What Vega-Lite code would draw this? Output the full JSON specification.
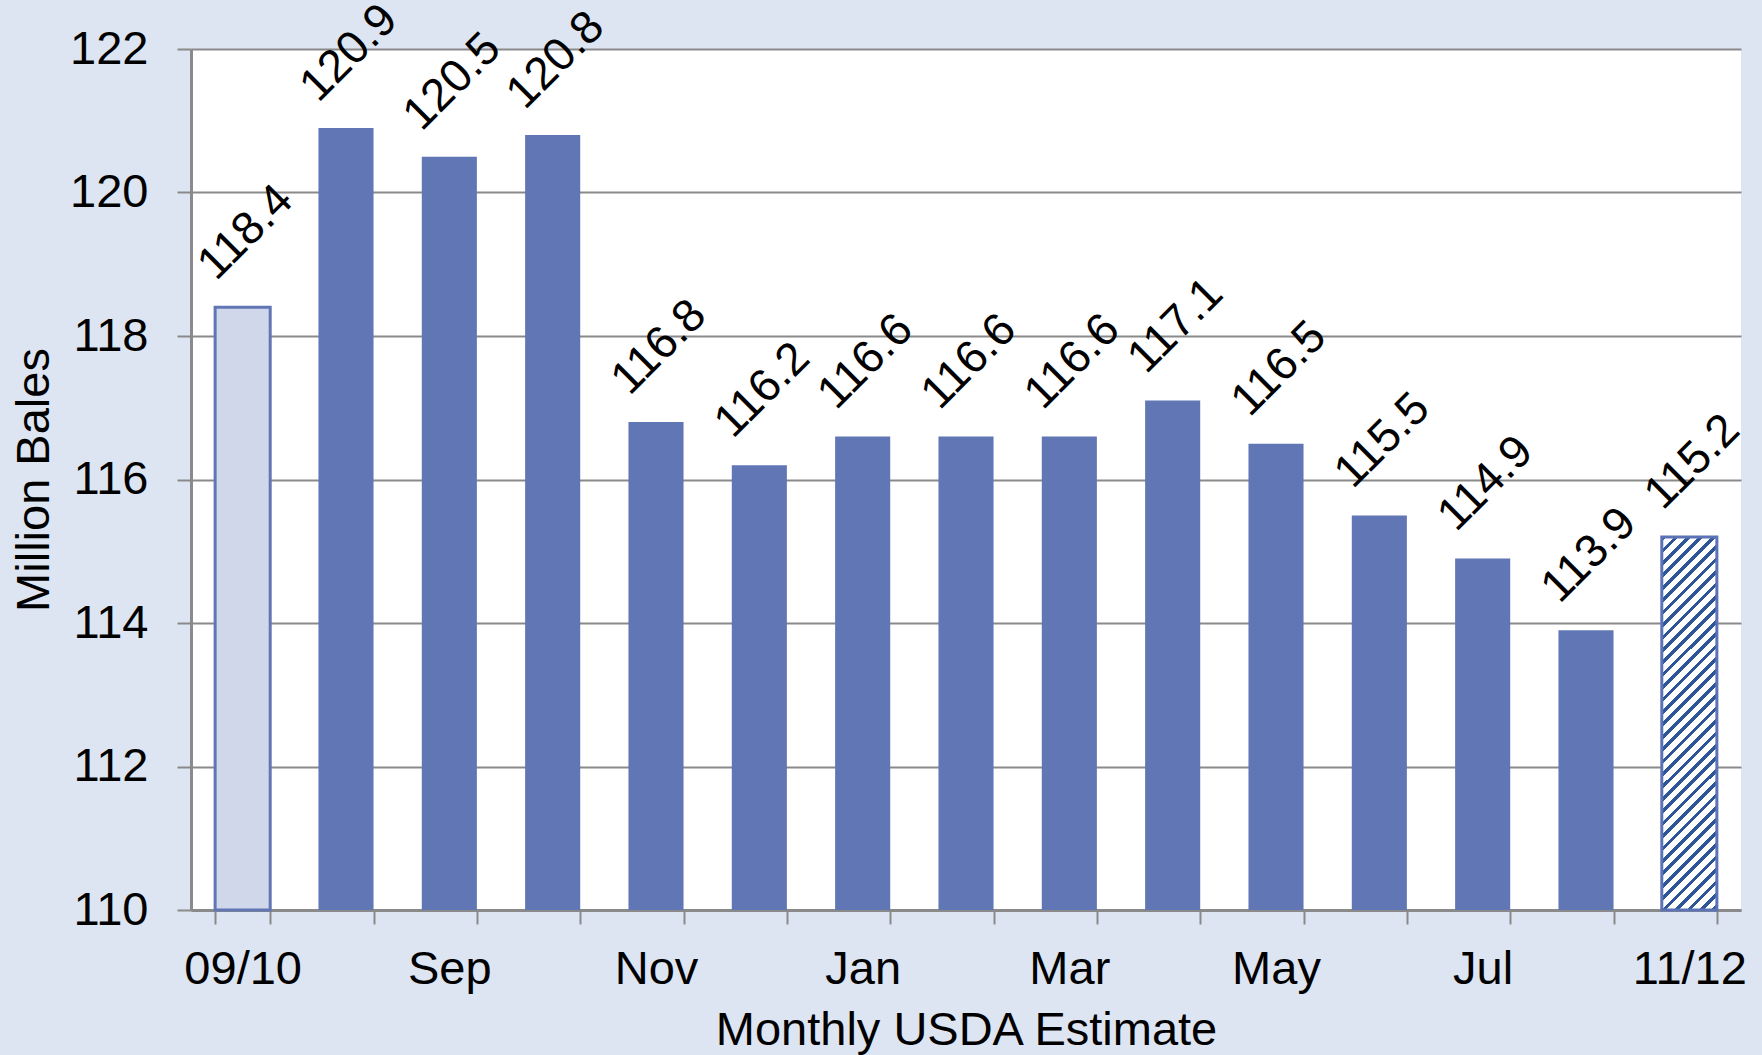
{
  "$schema": "https://vega.github.io/schema/vega-lite/v6.json",
  "width": 1550,
  "height": 861,
  "autosize": {"type": "none"},
  "padding": {"left": 191, "top": 49, "right": 21, "bottom": 145},
  "background": "#dce5f1",
  "config": {
    "view": {"fill": "#ffffff", "stroke": null},
    "font": "Liberation Sans",
    "axis": {
      "labelFont": "Liberation Sans",
      "titleFont": "Liberation Sans",
      "labelFontSize": 47,
      "titleFontSize": 47,
      "labelColor": "#000000",
      "titleColor": "#000000",
      "titleFontWeight": "normal",
      "domainColor": "#8a8a8a",
      "domainWidth": 3,
      "tickColor": "#8a8a8a",
      "tickWidth": 2,
      "tickSize": 14,
      "gridColor": "#8a8a8a",
      "gridWidth": 2
    }
  },
  "data": {
    "values": [
      {"month": "09/10", "value": 118.4, "type": "Final"},
      {"month": "Aug 2010", "value": 120.9, "type": "Estimate"},
      {"month": "Sep 2010", "value": 120.5, "type": "Estimate"},
      {"month": "Oct 2010", "value": 120.8, "type": "Estimate"},
      {"month": "Nov 2010", "value": 116.8, "type": "Estimate"},
      {"month": "Dec 2010", "value": 116.2, "type": "Estimate"},
      {"month": "Jan 2011", "value": 116.6, "type": "Estimate"},
      {"month": "Feb 2011", "value": 116.6, "type": "Estimate"},
      {"month": "Mar 2011", "value": 116.6, "type": "Estimate"},
      {"month": "Apr 2011", "value": 117.1, "type": "Estimate"},
      {"month": "May 2011", "value": 116.5, "type": "Estimate"},
      {"month": "Jun 2011", "value": 115.5, "type": "Estimate"},
      {"month": "Jul 2011", "value": 114.9, "type": "Estimate"},
      {"month": "Aug 2011", "value": 113.9, "type": "Estimate"},
      {"month": "11/12", "value": 115.2, "type": "Projection"}
    ]
  },
  "encoding": {
    "x": {
      "field": "month",
      "type": "nominal",
      "sort": ["09/10", "Aug 2010", "Sep 2010", "Oct 2010", "Nov 2010", "Dec 2010", "Jan 2011", "Feb 2011", "Mar 2011", "Apr 2011", "May 2011", "Jun 2011", "Jul 2011", "Aug 2011", "11/12"],
      "scale": {"paddingInner": 0.467, "paddingOuter": 0.2335},
      "axis": {
        "title": "Monthly USDA Estimate",
        "labelAngle": 0,
        "labelPadding": 22,
        "labelOverlap": false,
        "titlePadding": 15,
        "tickBand": "extent",
        "grid": false,
        "labelExpr": "!isString(datum.value) ? '' : (indexof(['Aug','Oct','Dec','Feb','Apr','Jun'], split(datum.value,' ')[0]) >= 0 ? '' : split(datum.value,' ')[0])"
      }
    },
    "y": {
      "field": "value",
      "type": "quantitative",
      "scale": {"domain": [110, 122], "zero": false, "nice": false},
      "axis": {
        "title": "Million Bales",
        "values": [110, 112, 114, 116, 118, 120, 122],
        "labelPadding": 29,
        "titlePadding": 11,
        "grid": true
      }
    }
  },
  "layer": [
    {
      "transform": [{"filter": "datum.type == 'Estimate'"}],
      "mark": {"type": "bar", "color": "#6176b4"},
      "encoding": {"y2": {"datum": 110}}
    },
    {
      "transform": [{"filter": "datum.type == 'Final'"}],
      "mark": {"type": "bar", "fill": "#d0d7ea", "stroke": "#6176b4", "strokeWidth": 3},
      "encoding": {"y2": {"datum": 110}}
    },
    {
      "transform": [{"filter": "datum.type == 'Projection'"}],
      "mark": {
        "type": "bar",
        "stroke": "#5b73b6",
        "strokeWidth": 3,
        "fill": {
          "gradient": "linear",
          "x1": 0, "y1": 0, "x2": 0.1656, "y2": 1.123,
          "stops": [
            {"offset": 0, "color": "#2e5597"}, {"offset": 0.011, "color": "#2e5597"}, {"offset": 0.011, "color": "#ffffff"}, {"offset": 0.029, "color": "#ffffff"},
            {"offset": 0.029, "color": "#2e5597"}, {"offset": 0.040, "color": "#2e5597"}, {"offset": 0.040, "color": "#ffffff"}, {"offset": 0.058, "color": "#ffffff"},
            {"offset": 0.058, "color": "#2e5597"}, {"offset": 0.069, "color": "#2e5597"}, {"offset": 0.069, "color": "#ffffff"}, {"offset": 0.087, "color": "#ffffff"},
            {"offset": 0.087, "color": "#2e5597"}, {"offset": 0.098, "color": "#2e5597"}, {"offset": 0.098, "color": "#ffffff"}, {"offset": 0.116, "color": "#ffffff"},
            {"offset": 0.116, "color": "#2e5597"}, {"offset": 0.127, "color": "#2e5597"}, {"offset": 0.127, "color": "#ffffff"}, {"offset": 0.145, "color": "#ffffff"},
            {"offset": 0.145, "color": "#2e5597"}, {"offset": 0.156, "color": "#2e5597"}, {"offset": 0.156, "color": "#ffffff"}, {"offset": 0.174, "color": "#ffffff"},
            {"offset": 0.174, "color": "#2e5597"}, {"offset": 0.185, "color": "#2e5597"}, {"offset": 0.185, "color": "#ffffff"}, {"offset": 0.203, "color": "#ffffff"},
            {"offset": 0.203, "color": "#2e5597"}, {"offset": 0.214, "color": "#2e5597"}, {"offset": 0.214, "color": "#ffffff"}, {"offset": 0.232, "color": "#ffffff"},
            {"offset": 0.232, "color": "#2e5597"}, {"offset": 0.243, "color": "#2e5597"}, {"offset": 0.243, "color": "#ffffff"}, {"offset": 0.261, "color": "#ffffff"},
            {"offset": 0.261, "color": "#2e5597"}, {"offset": 0.272, "color": "#2e5597"}, {"offset": 0.272, "color": "#ffffff"}, {"offset": 0.290, "color": "#ffffff"},
            {"offset": 0.290, "color": "#2e5597"}, {"offset": 0.301, "color": "#2e5597"}, {"offset": 0.301, "color": "#ffffff"}, {"offset": 0.319, "color": "#ffffff"},
            {"offset": 0.319, "color": "#2e5597"}, {"offset": 0.330, "color": "#2e5597"}, {"offset": 0.330, "color": "#ffffff"}, {"offset": 0.348, "color": "#ffffff"},
            {"offset": 0.348, "color": "#2e5597"}, {"offset": 0.359, "color": "#2e5597"}, {"offset": 0.359, "color": "#ffffff"}, {"offset": 0.377, "color": "#ffffff"},
            {"offset": 0.377, "color": "#2e5597"}, {"offset": 0.388, "color": "#2e5597"}, {"offset": 0.388, "color": "#ffffff"}, {"offset": 0.406, "color": "#ffffff"},
            {"offset": 0.406, "color": "#2e5597"}, {"offset": 0.417, "color": "#2e5597"}, {"offset": 0.417, "color": "#ffffff"}, {"offset": 0.435, "color": "#ffffff"},
            {"offset": 0.435, "color": "#2e5597"}, {"offset": 0.446, "color": "#2e5597"}, {"offset": 0.446, "color": "#ffffff"}, {"offset": 0.464, "color": "#ffffff"},
            {"offset": 0.464, "color": "#2e5597"}, {"offset": 0.475, "color": "#2e5597"}, {"offset": 0.475, "color": "#ffffff"}, {"offset": 0.493, "color": "#ffffff"},
            {"offset": 0.493, "color": "#2e5597"}, {"offset": 0.504, "color": "#2e5597"}, {"offset": 0.504, "color": "#ffffff"}, {"offset": 0.522, "color": "#ffffff"},
            {"offset": 0.522, "color": "#2e5597"}, {"offset": 0.533, "color": "#2e5597"}, {"offset": 0.533, "color": "#ffffff"}, {"offset": 0.551, "color": "#ffffff"},
            {"offset": 0.551, "color": "#2e5597"}, {"offset": 0.562, "color": "#2e5597"}, {"offset": 0.562, "color": "#ffffff"}, {"offset": 0.580, "color": "#ffffff"},
            {"offset": 0.580, "color": "#2e5597"}, {"offset": 0.591, "color": "#2e5597"}, {"offset": 0.591, "color": "#ffffff"}, {"offset": 0.609, "color": "#ffffff"},
            {"offset": 0.609, "color": "#2e5597"}, {"offset": 0.620, "color": "#2e5597"}, {"offset": 0.620, "color": "#ffffff"}, {"offset": 0.638, "color": "#ffffff"},
            {"offset": 0.638, "color": "#2e5597"}, {"offset": 0.649, "color": "#2e5597"}, {"offset": 0.649, "color": "#ffffff"}, {"offset": 0.667, "color": "#ffffff"},
            {"offset": 0.667, "color": "#2e5597"}, {"offset": 0.678, "color": "#2e5597"}, {"offset": 0.678, "color": "#ffffff"}, {"offset": 0.696, "color": "#ffffff"},
            {"offset": 0.696, "color": "#2e5597"}, {"offset": 0.707, "color": "#2e5597"}, {"offset": 0.707, "color": "#ffffff"}, {"offset": 0.725, "color": "#ffffff"},
            {"offset": 0.725, "color": "#2e5597"}, {"offset": 0.736, "color": "#2e5597"}, {"offset": 0.736, "color": "#ffffff"}, {"offset": 0.754, "color": "#ffffff"},
            {"offset": 0.754, "color": "#2e5597"}, {"offset": 0.765, "color": "#2e5597"}, {"offset": 0.765, "color": "#ffffff"}, {"offset": 0.783, "color": "#ffffff"},
            {"offset": 0.783, "color": "#2e5597"}, {"offset": 0.794, "color": "#2e5597"}, {"offset": 0.794, "color": "#ffffff"}, {"offset": 0.812, "color": "#ffffff"},
            {"offset": 0.812, "color": "#2e5597"}, {"offset": 0.823, "color": "#2e5597"}, {"offset": 0.823, "color": "#ffffff"}, {"offset": 0.841, "color": "#ffffff"},
            {"offset": 0.841, "color": "#2e5597"}, {"offset": 0.852, "color": "#2e5597"}, {"offset": 0.852, "color": "#ffffff"}, {"offset": 0.870, "color": "#ffffff"},
            {"offset": 0.870, "color": "#2e5597"}, {"offset": 0.881, "color": "#2e5597"}, {"offset": 0.881, "color": "#ffffff"}, {"offset": 0.899, "color": "#ffffff"},
            {"offset": 0.899, "color": "#2e5597"}, {"offset": 0.910, "color": "#2e5597"}, {"offset": 0.910, "color": "#ffffff"}, {"offset": 0.928, "color": "#ffffff"},
            {"offset": 0.928, "color": "#2e5597"}, {"offset": 0.939, "color": "#2e5597"}, {"offset": 0.939, "color": "#ffffff"}, {"offset": 0.957, "color": "#ffffff"},
            {"offset": 0.957, "color": "#2e5597"}, {"offset": 0.968, "color": "#2e5597"}, {"offset": 0.968, "color": "#ffffff"}, {"offset": 0.986, "color": "#ffffff"},
            {"offset": 0.986, "color": "#2e5597"}, {"offset": 0.997, "color": "#2e5597"}, {"offset": 0.997, "color": "#ffffff"}, {"offset": 1, "color": "#ffffff"}
          ]
        }
      },
      "encoding": {"y2": {"datum": 110}}
    },
    {
      "mark": {
        "type": "text",
        "angle": 315,
        "align": "center",
        "baseline": "middle",
        "radius": 75,
        "theta": 0.04,
        "fontSize": 46,
        "font": "Liberation Sans",
        "color": "#000000"
      },
      "encoding": {
        "text": {"field": "value", "type": "quantitative", "format": ".1f"}
      }
    }
  ]
}
